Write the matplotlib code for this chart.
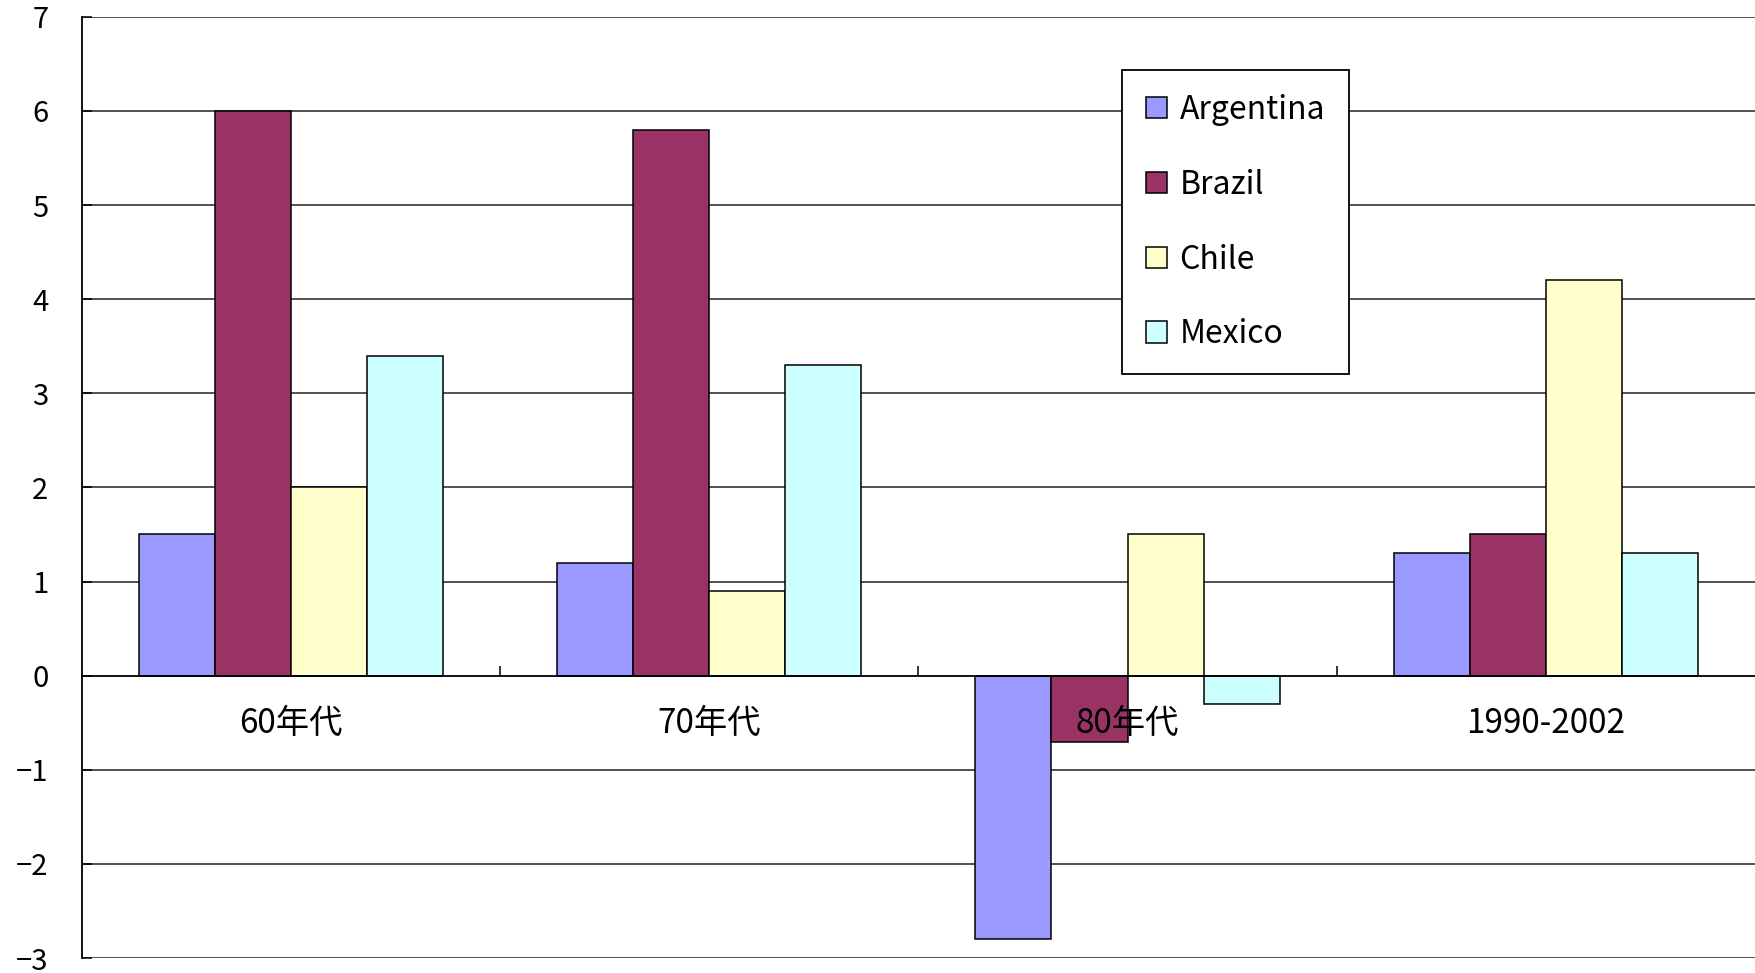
import matplotlib
matplotlib.use("Agg")
import matplotlib.pyplot as plt
import numpy as np

plt.rcParams['font.family'] = ['Noto Sans CJK JP', 'DejaVu Sans']

categories = ["60年代", "70年代", "80年代", "1990-2002"]
series_names = ["Argentina", "Brazil", "Chile", "Mexico"]
argentina = [1.5, 1.2, -2.8, 1.3]
brazil = [6.0, 5.8, -0.7, 1.5]
chile = [2.0, 0.9, 1.5, 4.2]
mexico = [3.4, 3.3, -0.3, 1.3]
series_values = [argentina, brazil, chile, mexico]
colors = ["#9999FF", "#993366", "#FFFFCC", "#CCFFFF"]
yticks = [-3, -2, -1, 0, 1, 2, 3, 4, 5, 6, 7]

fig = plt.figure(figsize=(17.55, 9.73), dpi=100)
ax = fig.add_axes([81.7 / 1755, 1 - 958 / 973, 1 - 81.7 / 1755, (958 - 16.8) / 973])
ax.set_axisbelow(False)

x = np.arange(len(categories))
w = 1 / 5.5
for i, (name, vals, c) in enumerate(zip(series_names, series_values, colors)):
    ax.bar(x + (i - 1.5) * w, vals, width=w, color=c, edgecolor="black",
           linewidth=1.1, label=name, zorder=1.2)

for yv in yticks:
    if yv != 0:
        ax.axhline(yv, color="#333333", linewidth=1.2, zorder=0.5)

ax.set_xlim(-0.5, len(categories) - 0.5)
ax.set_ylim(-3, 7)
ax.set_yticks(yticks)
ax.set_yticklabels([str(v).replace('-', '\u2212') for v in yticks])
ax.tick_params(axis='y', direction='in', length=7, width=1.1, pad=24,
               labelsize=21, colors='black')

ax.set_xticks(x[:-1] + 0.5)
ax.set_xticklabels([])
ax.set_xticks(x, minor=True)
ax.set_xticklabels(categories, minor=True)
ax.tick_params(axis='x', which='major', direction='in', length=7, width=1.1)
ax.tick_params(axis='x', which='minor', length=0, pad=22, labelsize=24)

ax.spines['top'].set_visible(False)
ax.spines['right'].set_visible(False)
ax.spines['bottom'].set_position(('data', 0))
ax.spines['bottom'].set_linewidth(1.3)
ax.spines['left'].set_linewidth(1.3)

leg = ax.legend(loc='upper left', bbox_to_anchor=(1122 / 1755, 1 - 70 / 973),
                bbox_transform=fig.transFigure, borderaxespad=0,
                fontsize=23, frameon=True, fancybox=False, shadow=False,
                handlelength=0.65, handleheight=0.65, handletextpad=0.4,
                labelspacing=1.34, borderpad=0.75)
leg.get_frame().set_edgecolor('black')
leg.get_frame().set_linewidth(1.3)
leg.get_frame().set_facecolor('white')
leg.get_frame().set_alpha(1)
leg.set_zorder(5)

fig.savefig("out.png", dpi=100)
